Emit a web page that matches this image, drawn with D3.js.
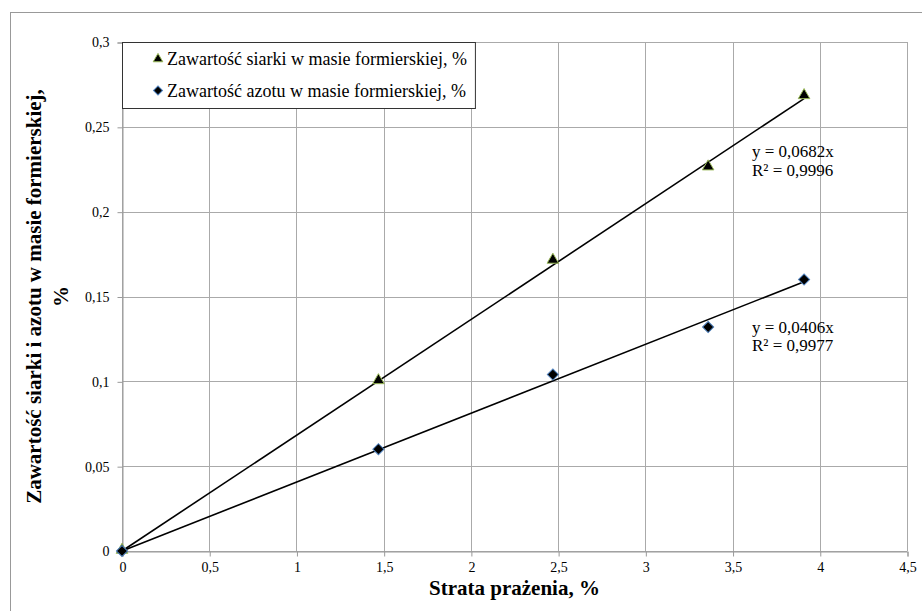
<!DOCTYPE html>
<html>
<head>
<meta charset="utf-8">
<script src="https://cdn.jsdelivr.net/npm/d3@7"></script>
<style>
  body { margin: 0; background: #fff; }
  svg text { font-family: "Times New Roman", "Liberation Serif", "DejaVu Serif", serif; }
</style>
</head>
<body>
<div id="chart"></div>
<script>
// data
const strata = [0, 1.47, 2.47, 3.36, 3.91];
const siarka = [0, 0.100, 0.171, 0.226, 0.268];
const azot = [0, 0.060, 0.104, 0.132, 0.160];
const slopeSiarka = 0.0682, r2Siarka = "0,9996";
const slopeAzot = 0.0406, r2Azot = "0,9977";
const xTicks = [0, 0.5, 1, 1.5, 2, 2.5, 3, 3.5, 4, 4.5];
const yTicks = [0, 0.05, 0.1, 0.15, 0.2, 0.25, 0.3];
const legendLabels = ["Zawartość siarki w masie formierskiej, %", "Zawartość azotu w masie formierskiej, %"];

const width = 922, height = 611;
const margin = {top: 42, right: 15, bottom: 60, left: 122};
const serif = "'Times New Roman', 'Liberation Serif', 'DejaVu Serif', serif";

const pl = d3.formatLocale({decimal: ",", thousands: " ", grouping: [3], currency: ["", ""]});
const fmt = pl.format("~r");

const svg = d3.select("#chart").append("svg")
    .attr("width", width)
    .attr("height", height)
    .attr("font-family", serif);

// outer chart border
svg.append("rect")
    .attr("x", 10.5).attr("y", 12.5)
    .attr("width", width).attr("height", height)
    .attr("fill", "none")
    .attr("stroke", "#999");

const x = d3.scaleLinear().domain([0, 4.5]).range([margin.left, width - margin.right]);
const y = d3.scaleLinear().domain([0, 0.3]).range([height - margin.bottom, margin.top]);

// gridlines
svg.append("g")
    .selectAll("line")
    .data(xTicks)
    .join("line")
    .attr("x1", d => Math.round(x(d)) + 0.5)
    .attr("x2", d => Math.round(x(d)) + 0.5)
    .attr("y1", y(0)).attr("y2", y(0.3))
    .attr("stroke", "#aaa");
svg.append("g")
    .selectAll("line")
    .data(yTicks)
    .join("line")
    .attr("y1", d => Math.round(y(d)) + 0.5)
    .attr("y2", d => Math.round(y(d)) + 0.5)
    .attr("x1", x(0)).attr("x2", x(4.5))
    .attr("stroke", "#aaa");

// axes
const xAxis = svg.append("g")
    .attr("transform", `translate(0.5, ${Math.round(y(0)) + 0.5})`)
    .call(d3.axisBottom(x).tickValues(xTicks).tickFormat(fmt).tickSize(5).tickPadding(6));
const yAxis = svg.append("g")
    .attr("transform", `translate(${Math.round(x(0)) + 0.5}, 0.5)`)
    .call(d3.axisLeft(y).tickValues(yTicks).tickFormat(fmt).tickSize(5).tickPadding(8));
[xAxis, yAxis].forEach(a => {
    a.attr("font-family", serif).attr("font-size", 14);
    a.select(".domain").attr("stroke", "#999");
    a.selectAll(".tick line").attr("stroke", "#999");
    a.selectAll(".tick text").attr("fill", "#000");
});

// trendlines
const trends = [slopeSiarka, slopeAzot];
svg.append("g")
    .selectAll("line")
    .data(trends)
    .join("line")
    .attr("x1", x(0)).attr("y1", y(0))
    .attr("x2", x(d3.max(strata)))
    .attr("y2", d => y(d * d3.max(strata)))
    .attr("stroke", "#000")
    .attr("stroke-width", 1.6);

// markers
const tri = d3.symbol().type(d3.symbolTriangle).size(58);
const dia = d3.symbol().type(d3.symbolSquare).size(62);

svg.append("g")
    .selectAll("path")
    .data(strata.map((s, i) => [s, siarka[i]]))
    .join("path")
    .attr("d", tri)
    .attr("transform", d => `translate(${x(d[0])}, ${y(d[1]) - 1})`)
    .attr("fill", "#000")
    .attr("stroke", "#9bbb59")
    .attr("stroke-width", 1);

svg.append("g")
    .selectAll("path")
    .data(strata.map((s, i) => [s, azot[i]]))
    .join("path")
    .attr("d", dia)
    .attr("transform", d => `translate(${x(d[0])}, ${y(d[1])}) rotate(45)`)
    .attr("fill", "#000")
    .attr("stroke", "#4f81bd")
    .attr("stroke-width", 1);

// equations (trendline labels)
const eqs = [
    {t1: `y = ${fmt(slopeSiarka)}x`, t2: `R² = ${r2Siarka}`, px: 3.6, py: 0.2322},
    {t1: `y = ${fmt(slopeAzot)}x`, t2: `R² = ${r2Azot}`, px: 3.6, py: 0.1285}
];
eqs.forEach(e => {
    const t = svg.append("text")
        .attr("x", x(e.px) + 2)
        .attr("y", y(e.py))
        .attr("font-size", 17)
        .attr("fill", "#000");
    t.append("tspan").text(e.t1);
    t.append("tspan").attr("x", x(e.px) + 2).attr("dy", 18.5).text(e.t2);
});

// legend
const legend = svg.append("g");
const legBox = legend.append("rect")
    .attr("x", Math.round(x(0)) + 0.5)
    .attr("y", Math.round(y(0.3)) + 0.5)
    .attr("height", 66)
    .attr("fill", "#fff")
    .attr("stroke", "#333");
let maxW = 0;
legendLabels.forEach((lab, i) => {
    const ly = y(0.3) + 17 + i * 31.5;
    legend.append("path")
        .attr("d", i === 0 ? tri.size(40)() : dia.size(40)())
        .attr("transform", `translate(${x(0) + 36}, ${ly}) ${i === 0 ? "" : "rotate(45)"}`)
        .attr("fill", "#000")
        .attr("stroke", i === 0 ? "#9bbb59" : "#4f81bd");
    const t = legend.append("text")
        .attr("x", x(0) + 45)
        .attr("y", ly + 6)
        .attr("font-size", 18)
        .text(lab);
    maxW = Math.max(maxW, t.node().getComputedTextLength());
});
legBox.attr("width", 45 + maxW + 8);

// axis titles
svg.append("text")
    .attr("x", (x(0) + x(4.5)) / 2)
    .attr("y", 595)
    .attr("text-anchor", "middle")
    .attr("font-size", 21)
    .attr("font-weight", "bold")
    .text("Strata prażenia, %");

const yt = svg.append("text")
    .attr("transform", `translate(41, ${(y(0) + y(0.3)) / 2}) rotate(-90)`)
    .attr("text-anchor", "middle")
    .attr("font-size", 21)
    .attr("font-weight", "bold");
yt.append("tspan").attr("x", 0).attr("y", 0).text("Zawartość siarki i azotu w masie formierskiej,");
yt.append("tspan").attr("x", 0).attr("y", 27).text("%");
</script>
</body>
</html>
